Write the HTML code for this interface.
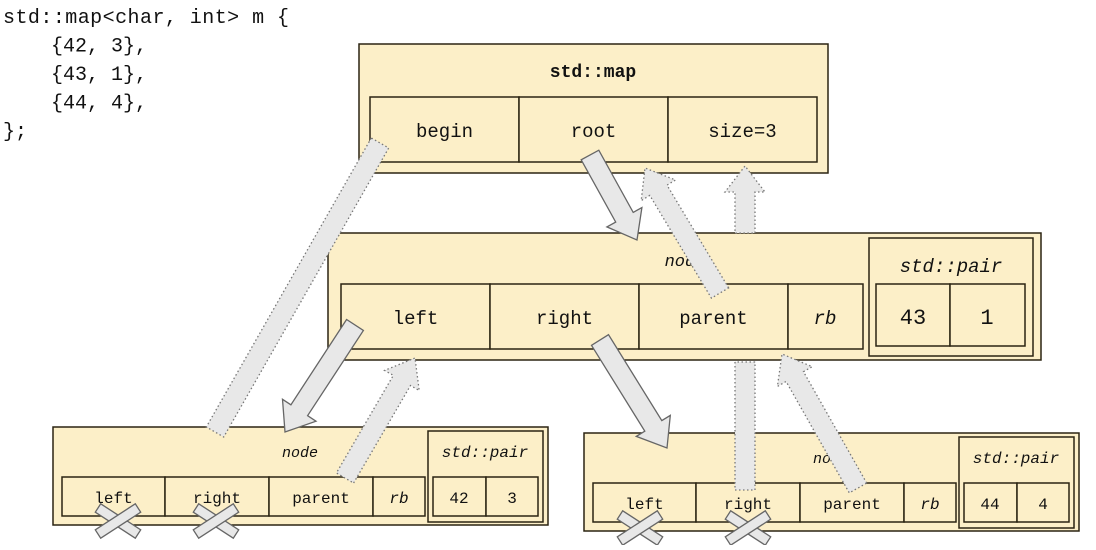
<!DOCTYPE html>
<html><head><meta charset="utf-8"><style>
body{margin:0;background:#fff;width:1096px;height:545px;overflow:hidden}
svg text{font-family:"Liberation Mono","DejaVu Sans Mono",monospace;fill:#111}
</style></head><body>
<svg id="s" width="1096" height="545" xmlns="http://www.w3.org/2000/svg">
<text x="3" y="23" font-size="20">std::map&lt;char, int&gt; m {</text>
</svg>
<script>
const s=document.getElementById('s');
let h='';
const F='#fcefc8',B='#2b2412';
function rect(x,y,w,hh,sw){h+=`<rect x="${x}" y="${y}" width="${w}" height="${hh}" fill="${F}" stroke="${B}" stroke-width="${sw||1.5}"/>`;}
function txt(x,y,t,sz,extra){h+=`<text x="${x}" y="${y}" font-size="${sz}" text-anchor="middle" ${extra||''}>${t}</text>`;}
['std::map&lt;char, int&gt; m {','    {42, 3},','    {43, 1},','    {44, 4},','};'].forEach((l,i)=>{
 h+=`<text x="3" y="${23+i*28.5}" font-size="20" textLength="${l.length>20?286:0}" xml:space="preserve">${l}</text>`.replace(' textLength="0"','');});
rect(359,44,469,129);txt(593,77,'std::map',18,'font-weight="bold"');
[[370,'begin'],[519,'root'],[668,'size=3']].forEach(([x,t])=>{rect(x,97,149,65);txt(x+74.5,137,t,19);});
rect(328,233,713,127);txt(685,266,'node',17,'font-style="italic"');
[[341,149,'left'],[490,149,'right'],[639,149,'parent']].forEach(([x,w,t])=>{rect(x,284,w,65);txt(x+w/2,324,t,19);});
rect(788,284,75,65);txt(825,324,'rb',19,'font-style="italic"');
rect(869,238,164,118);txt(951,272,'std::pair',19,'font-style="italic"');
rect(876,284,74,62);txt(913,324,'43',22);rect(950,284,75,62);txt(987,324,'1',22);
function bnode(x0,y0,a,b){
 rect(x0,y0,495,98);txt(x0+247,y0+30,'node',15,'font-style="italic"');
 const cy=y0+50;
 [[9,103,'left'],[112,104,'right'],[216,104,'parent']].forEach(([dx,w,t])=>{rect(x0+dx,cy,w,39);txt(x0+dx+w/2,cy+26,t,16);});
 rect(x0+320,cy,52,39);txt(x0+346,cy+26,'rb',16,'font-style="italic"');
 rect(x0+375,y0+4,115,91);txt(x0+432,y0+30,'std::pair',16,'font-style="italic"');
 rect(x0+380,cy,53,39);txt(x0+406,cy+26,a,16);rect(x0+433,cy,52,39);txt(x0+459,cy+26,b,16);
}
bnode(53,427,'42','3');bnode(584,433,'44','4');
function arrow(x1,y1,x2,y2,head,dotted,sw){
 const dx=x2-x1,dy=y2-y1,L=Math.hypot(dx,dy),ux=dx/L,uy=dy/L,px=-uy,py=ux;
 const w=sw||10,hw=20,hl=head?26:0;
 const bx=x2-ux*hl,by=y2-uy*hl;
 let pts=[[x1+px*w,y1+py*w],[bx+px*w,by+py*w]];
 if(head){pts.push([bx+px*hw,by+py*hw],[x2,y2],[bx-px*hw,by-py*hw]);}
 else pts.push([x2+px*w,y2+py*w],[x2-px*w,y2-py*w]);
 pts.push([bx-px*w,by-py*w],[x1-px*w,y1-py*w]);
 h+=`<polygon points="${pts.map(p=>p.map(v=>v.toFixed(1)).join(',')).join(' ')}" fill="#e8e8e8" stroke="${dotted?'#777':'#666'}" stroke-width="1.3" ${dotted?'stroke-dasharray="1.5,2.5"':''}/>`;
}
arrow(380,143,215,432,false,true);
arrow(590,155,637,240,true,false);
arrow(720,293,645,168,true,true);
arrow(745,233,745,166,true,true);
arrow(355,325,285,432,true,false);
arrow(345,478,415,358,true,true);
arrow(600,340,667,448,true,false);
arrow(745,490,745,362,false,true);
arrow(858,488,782,354,true,true);
function cross(cx,cy){arrow(cx-20,cy-13,cx+20,cy+13,false,false,5);arrow(cx-20,cy+13,cx+20,cy-13,false,false,5);}
cross(118,521);cross(216,521);cross(640,528);cross(748,528);
s.innerHTML=h;
</script>
</body></html>
